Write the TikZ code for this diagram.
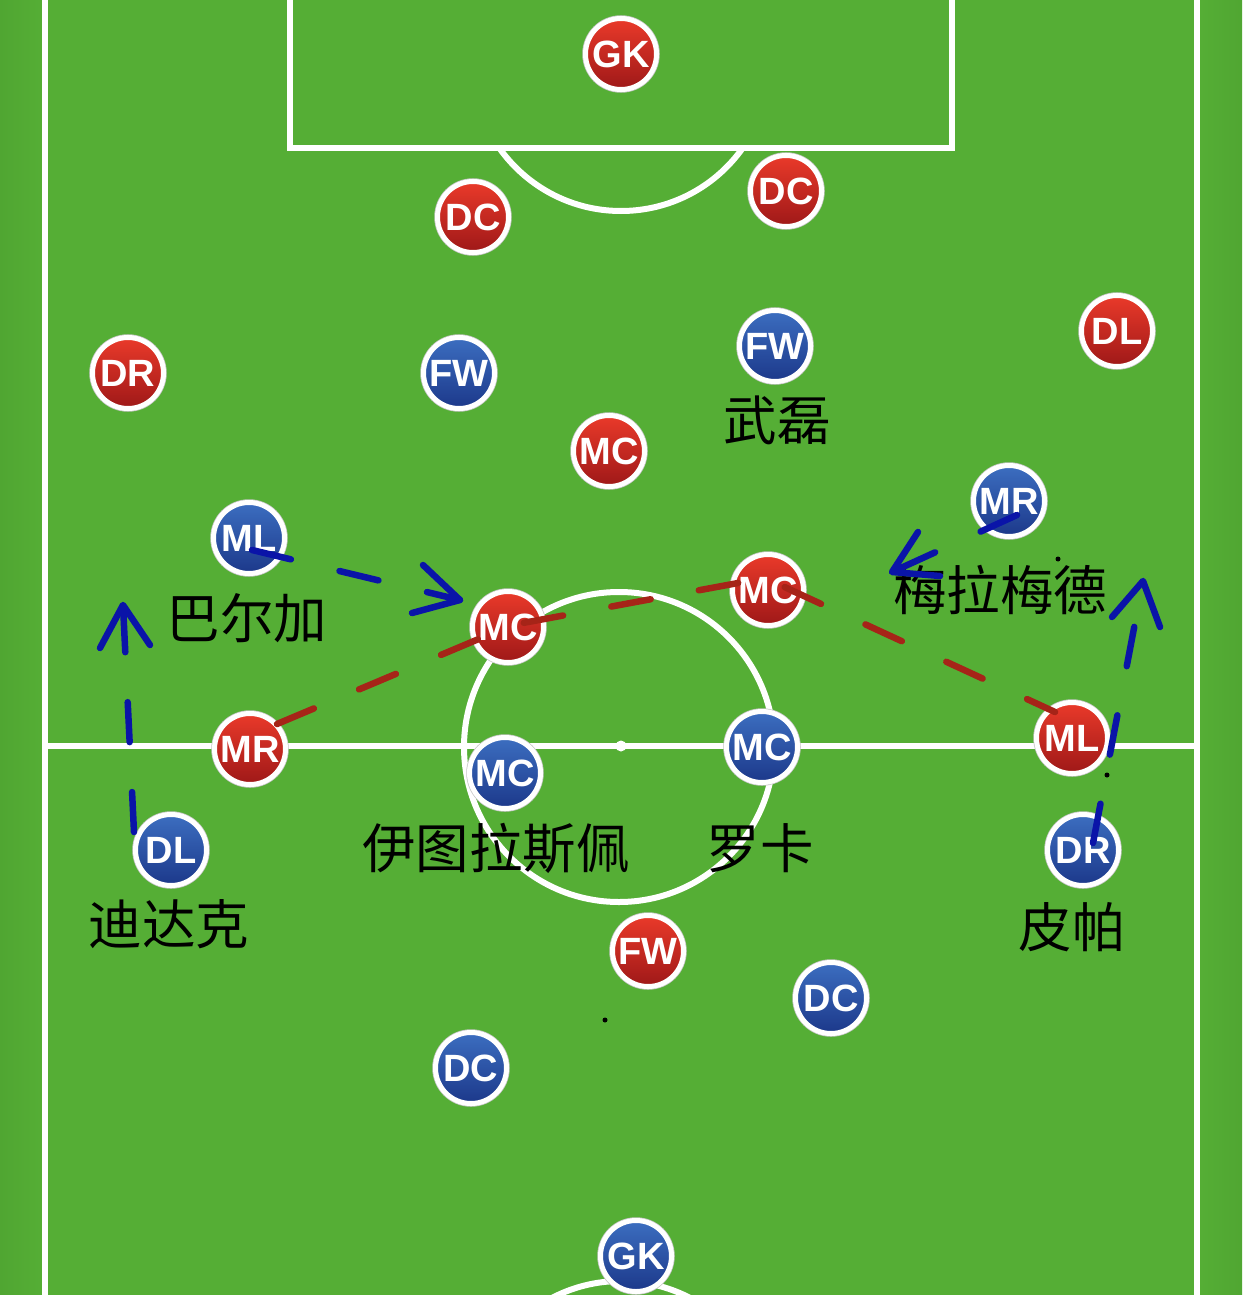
\documentclass[tikz,border=0pt]{standalone}
\usepackage{fontspec}
\setmainfont{Liberation Sans}
\newfontfamily\cjk{Noto Sans CJK SC}
\usetikzlibrary{calc}
\definecolor{grass}{RGB}{85,174,53}
\definecolor{grassdark}{RGB}{80,166,50}
\definecolor{redtop}{RGB}{234,58,42}
\definecolor{redbot}{RGB}{158,24,24}
\definecolor{bluetop}{RGB}{60,110,192}
\definecolor{bluebot}{RGB}{28,56,138}
\definecolor{penred}{RGB}{166,36,24}
\definecolor{penblue}{RGB}{10,20,168}
\tikzset{
  player/.style={circle, minimum size=71pt, inner sep=0pt, draw=white, line width=5pt,
    preaction={draw=black!22, line width=6.5pt}, text=white,
    font=\fontsize{38}{38}\selectfont\bfseries},
  redp/.style={player, top color=redtop, bottom color=redbot},
  bluep/.style={player, top color=bluetop, bottom color=bluebot},
  cname/.style={font=\cjk\fontsize{53.5}{53.5}\selectfont, text=black, inner sep=0pt},
  pitchline/.style={draw=white, line width=6pt},
  redpen/.style={draw=penred, line width=6.5pt, line cap=round, line join=round, dash pattern=on 40pt off 49pt},
  bluepen/.style={draw=penblue, line width=6.5pt, line cap=round, line join=round},
  bluedash/.style={bluepen, dash pattern=on 40pt off 50pt},
  dotmark/.style={fill=black, circle, inner sep=0pt, minimum size=5pt},
}
\begin{document}
\begin{tikzpicture}[x=1pt,y=-1pt]
\useasboundingbox (0,0) rectangle (1242,1295);
\clip (0,0) rectangle (1242,1295);
% grass
\fill[grass] (0,0) rectangle (1242,1295);
\shade[left color=grassdark, right color=grass] (0,0) rectangle (42,1295);
\shade[left color=grass, right color=grassdark] (1200,0) rectangle (1242,1295);
% pitch lines
\draw[pitchline] (45,-10) -- (45,1305);
\draw[pitchline] (1197,-10) -- (1197,1305);
\draw[pitchline] (45,746) -- (1197,746);
\draw[pitchline] (290,-10) -- (290,148) -- (952,148) -- (952,-10);
\begin{scope}
  \clip (0,148) rectangle (1242,400);
  \draw[pitchline] (621,62) circle[radius=149pt];
\end{scope}
\draw[pitchline] (619,747) circle[radius=155pt];
\fill[white] (621,746) circle[radius=5.5pt];
\draw[pitchline] (621,1430) circle[radius=149pt];
% red team
\node[redp] (rgk)  at (621,54)  {GK};
\node[redp] (rdc1) at (473,217) {DC};
\node[redp] (rdc2) at (786,191) {DC};
\node[redp] (rdr)  at (128,373) {DR};
\node[redp] (rdl)  at (1117,331) {DL};
\node[redp] (rmc0) at (609,451) {MC};
\node[redp] (rmc1) at (508,627) {MC};
\node[redp] (rmc2) at (768,590) {MC};
\node[redp] (rmr)  at (250,749) {MR};
\node[redp] (rml)  at (1072,738) {ML};
\node[redp] (rfw)  at (648,951) {FW};
% blue team
\node[bluep] (bfw1) at (459,373) {FW};
\node[bluep] (bfw2) at (775,346) {FW};
\node[bluep] (bmr)  at (1009,501) {MR};
\node[bluep] (bml)  at (249,538) {ML};
\node[bluep] (bmc1) at (505,773) {MC};
\node[bluep] (bmc2) at (762,747) {MC};
\node[bluep] (bdl)  at (171,850) {DL};
\node[bluep] (bdr)  at (1083,850) {DR};
\node[bluep] (bdc1) at (831,998) {DC};
\node[bluep] (bdc2) at (471,1068) {DC};
\node[bluep] (bgk)  at (636,1256) {GK};
% names
\node[cname] (n1) at (777,420) {武磊};
\node[cname] (n2) at (247,618) {巴尔加};
\node[cname] (n3) at (1000,590) {梅拉梅德};
\node[cname] (n4) at (496,848) {伊图拉斯佩};
\node[cname] (n5) at (760,848) {罗卡};
\node[cname] (n6) at (169,924) {迪达克};
\node[cname] (n7) at (1072,927) {皮帕};
% stray dots
\node[dotmark] (d1) at (1058,559) {};
\node[dotmark] (d2) at (1107,775) {};
\node[dotmark] (d3) at (605,1020) {};
% red dashed run
\coordinate (r0) at (277,724);
\coordinate (r1) at (512,625);
\coordinate (r2) at (765,578);
\coordinate (r3) at (1055,712);
\draw[redpen] (r0) -- (r1) -- (r2) -- (r3);
% blue arrows
\coordinate (a1s) at (134,832); \coordinate (a1t) at (123,605);
\draw[bluedash] (a1s) -- (a1t);
\draw[bluepen] ($(a1t)+(-23,43)$) -- (a1t) -- ($(a1t)+(27,40)$);
\coordinate (a2s) at (252,550); \coordinate (a2t) at (460,600);
\draw[bluedash] (a2s) -- (a2t);
\draw[bluepen] ($(a2t)+(-37,-35)$) -- (a2t) -- ($(a2t)+(-48,13)$);
\coordinate (a3s) at (1017,515); \coordinate (a3t) at (892,572);
\draw[bluedash] (a3s) -- (a3t);
\draw[bluepen] ($(a3t)+(26,-40)$) -- (a3t) -- ($(a3t)+(48,4)$);
\coordinate (a4s) at (1093,843); \coordinate (a4t) at (1143,581);
\draw[bluedash] (a4s) -- (a4t);
\draw[bluepen] ($(a4t)+(-31,36)$) -- (a4t) -- ($(a4t)+(17,46)$);
\end{tikzpicture}
\end{document}
